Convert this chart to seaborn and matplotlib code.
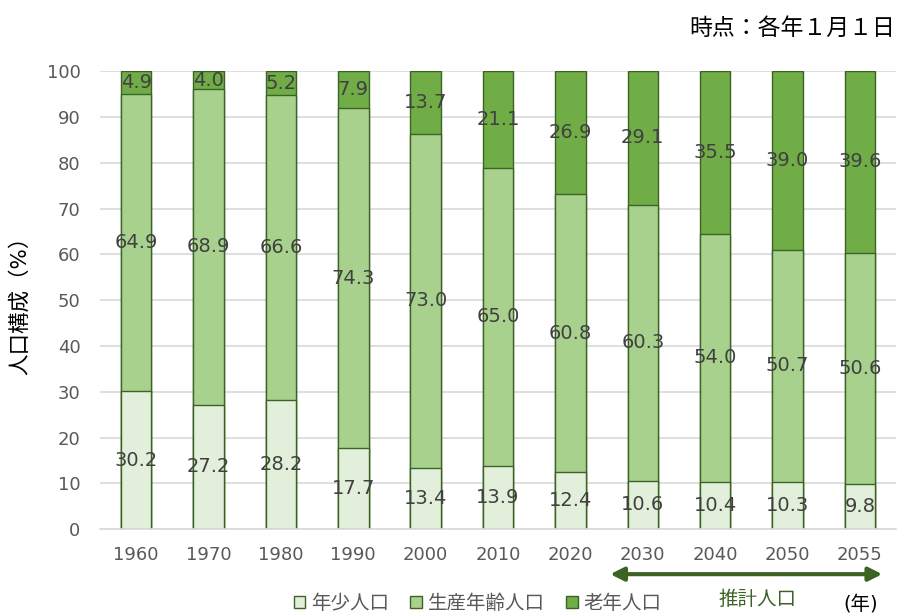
import numpy as np
import pandas as pd
import matplotlib
matplotlib.use("Agg")
import matplotlib.pyplot as plt
import seaborn as sns
from matplotlib.patches import Patch

sns.set_style("white")
plt.rcParams['font.family'] = ['DejaVu Sans', 'Noto Sans CJK JP']

# data
years = ['1960', '1970', '1980', '1990', '2000', '2010', '2020', '2030', '2040', '2050', '2055']
young = [30.2, 27.2, 28.2, 17.7, 13.4, 13.9, 12.4, 10.6, 10.4, 10.3, 9.8]
working = [64.9, 68.9, 66.6, 74.3, 73.0, 65.0, 60.8, 60.3, 54.0, 50.7, 50.6]
old = [4.9, 4.0, 5.2, 7.9, 13.7, 21.1, 26.9, 29.1, 35.5, 39.0, 39.6]
series_names = ['年少人口', '生産年齢人口', '老年人口']

colors = ['#e2efda', '#a9d18e', '#70ad47']
edge = '#3b6323'
label_color = '#404040'
tick_color = '#595959'

df = pd.DataFrame({'year': years, 'young': young, 'working': working, 'old': old})
df['mid'] = df['young'] + df['working']
df['top'] = 100.0

fig = plt.figure(figsize=(8.98, 6.14), dpi=100)
ax = fig.add_axes([0.1114, 0.138, 0.8864, 0.746])

# stacked bars drawn as overlapping layers, tallest first
for col, c in [('top', colors[2]), ('mid', colors[1]), ('young', colors[0])]:
    sns.barplot(data=df, x='year', y=col, order=years, color=c, width=0.42,
                edgecolor=edge, linewidth=1.0, saturation=1, ax=ax)

# value labels at segment centres
for i in range(len(years)):
    y0 = young[i]
    y1 = young[i] + working[i]
    ax.text(i, y0 / 2, f'{young[i]:.1f}', ha='center', va='center', fontsize=14, color=label_color)
    ax.text(i, (y0 + y1) / 2, f'{working[i]:.1f}', ha='center', va='center', fontsize=14, color=label_color)
    ax.text(i, (y1 + 100) / 2, f'{old[i]:.1f}', ha='center', va='center', fontsize=14, color=label_color)

ax.set_ylim(0, 100)
ax.set_xlim(-0.5, len(years) - 0.5)
ax.set_yticks(range(0, 101, 10))
ax.yaxis.grid(True, color='#d9d9d9', linewidth=1.2)
ax.set_axisbelow(True)
for s in ['top', 'right', 'left']:
    ax.spines[s].set_visible(False)
ax.spines['bottom'].set_color('#d9d9d9')
ax.spines['bottom'].set_linewidth(1.2)
ax.tick_params(axis='both', length=0, labelsize=13, colors=tick_color)
ax.tick_params(axis='y', pad=14)
ax.tick_params(axis='x', pad=12)
ax.set_xlabel('')
ax.set_ylabel('人口構成（%）', fontsize=15.5, color='black', labelpad=12)

fig.text(0.997, 0.953, '時点：各年１月１日', ha='right', va='center', fontsize=16.5, color='black')

# projection arrow
ax.annotate('', xy=(10.31, -9.8), xytext=(6.55, -9.8),
            xycoords='data', textcoords='data', annotation_clip=False,
            arrowprops=dict(arrowstyle='<|-|>', color='#3b6323', lw=3, mutation_scale=20,
                            shrinkA=0, shrinkB=0))
fig.text(0.843, 0.024, '推計人口', ha='center', va='center', fontsize=14, color='#3b6323')
fig.text(0.959, 0.016, '(年)', ha='center', va='center', fontsize=14, color='black')

handles = [Patch(facecolor=c, edgecolor=edge, linewidth=1) for c in colors]
leg = fig.legend(handles, series_names, loc='center', bbox_to_anchor=(0.532, 0.017),
                 ncol=3, frameon=False, fontsize=14, handlelength=0.6, handleheight=0.6,
                 handletextpad=0.3, columnspacing=1.1)
for t in leg.get_texts():
    t.set_color(tick_color)

fig.savefig('out.png', dpi=100)
